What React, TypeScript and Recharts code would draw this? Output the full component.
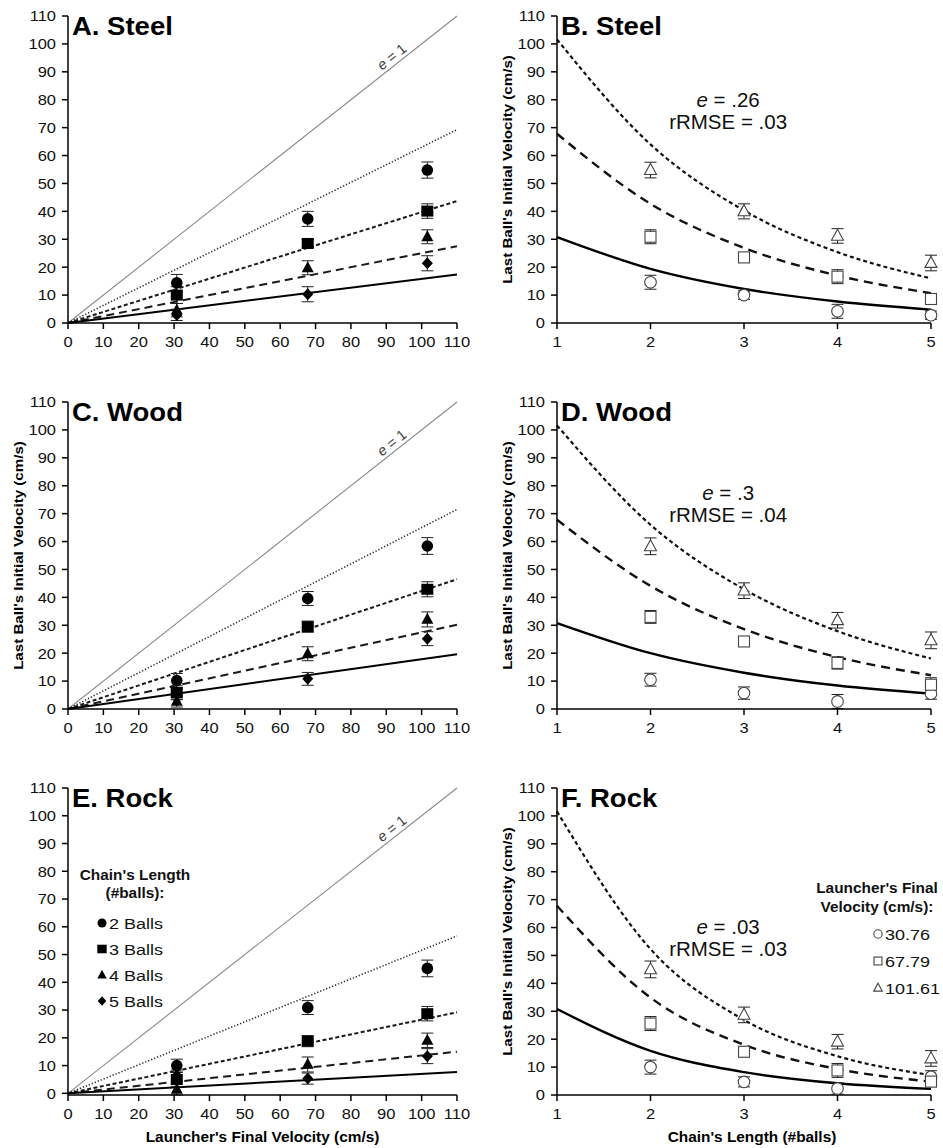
import React from 'react';
import {
  ComposedChart,
  ErrorBar,
  Legend,
  Line,
  ReferenceDot,
  Scatter,
  XAxis,
  YAxis,
} from 'recharts';

const FONT = '"Liberation Sans", Arial, sans-serif';

// shared axes / categories
const launchVelocities = [30.76, 67.79, 101.61];
const chainLengths = [2, 3, 4, 5];
const chainTicks = [1, 2, 3, 4, 5];
const velocityTicks = [0, 10, 20, 30, 40, 50, 60, 70, 80, 90, 100, 110];
const chainLabels = ['2 Balls', '3 Balls', '4 Balls', '5 Balls'];
const launchLabels = ['30.76', '67.79', '101.61'];
const identityLine = [110, 110];

// A. Steel — rows: chain length 2..5, cols: launcher velocity
const steelByChain = [
  [14.4, 37.3, 54.8],
  [10.0, 28.5, 40.1],
  [4.6, 19.8, 30.9],
  [2.9, 10.3, 21.4],
];
const steelByChainErr = [
  [3.0, 2.7, 2.9],
  [3.0, 1.5, 2.6],
  [2.4, 2.5, 2.5],
  [2.0, 2.7, 2.7],
];
const steelLineEnds = [69.3, 43.7, 27.5, 17.4];

// B. Steel — rows: launcher velocity, cols: chain length 2..5
const steelByLaunch = [
  [14.6, 10.0, 4.2, 2.8],
  [30.9, 23.5, 16.6, 8.6],
  [54.8, 40.0, 31.2, 21.5],
];
const steelByLaunchErr = [
  [2.5, 1.5, 2.5, 1.5],
  [2.5, 1.5, 2.5, 1.5],
  [2.8, 2.7, 2.6, 2.8],
];
const steelCurves = [
  [30.8, 19.4, 12.2, 7.7, 4.8],
  [67.8, 42.7, 26.9, 17.0, 10.7],
  [101.6, 64.0, 40.3, 25.4, 16.0],
];

// C. Wood
const woodByChain = [
  [10.2, 39.6, 58.4],
  [5.8, 29.5, 42.9],
  [2.7, 19.8, 32.1],
  [5.5, 10.8, 25.2],
];
const woodByChainErr = [
  [2.5, 2.5, 3.0],
  [2.5, 2.0, 2.7],
  [2.0, 2.5, 2.7],
  [2.0, 2.3, 2.5],
];
const woodLineEnds = [71.5, 46.5, 30.2, 19.6];

// D. Wood
const woodByLaunch = [
  [10.5, 5.7, 2.7, 5.5],
  [33.0, 24.2, 16.5, 8.7],
  [58.3, 42.4, 31.8, 24.6],
];
const woodByLaunchErr = [
  [2.3, 2.2, 2.5, 2.0],
  [2.3, 1.5, 2.2, 2.5],
  [3.0, 2.8, 2.8, 3.0],
];
const woodCurves = [
  [30.8, 20.0, 13.0, 8.4, 5.5],
  [67.8, 44.1, 28.6, 18.6, 12.1],
  [101.6, 66.0, 42.9, 27.9, 18.1],
];

// E. Rock
const rockByChain = [
  [10.0, 30.9, 45.0],
  [5.0, 18.8, 28.7],
  [1.4, 10.4, 19.1],
  [6.4, 5.3, 13.4],
];
const rockByChainErr = [
  [2.3, 2.5, 3.0],
  [2.5, 2.0, 2.6],
  [2.0, 2.7, 2.6],
  [2.0, 2.0, 2.7],
];
const rockLineEnds = [56.7, 29.2, 15.0, 7.7];

// F. Rock
const rockByLaunch = [
  [10.0, 4.7, 2.3, 6.5],
  [25.6, 15.5, 8.8, 4.8],
  [45.0, 28.7, 19.1, 13.1],
];
const rockByLaunchErr = [
  [2.5, 1.8, 2.0, 2.2],
  [2.5, 1.8, 2.5, 1.8],
  [3.0, 2.8, 2.6, 2.8],
];
const rockCurves = [
  [30.8, 15.8, 8.2, 4.2, 2.2],
  [67.8, 34.9, 18.0, 9.3, 4.8],
  [101.6, 52.3, 26.9, 13.9, 7.1],
];

type Kind = 'circle' | 'square' | 'triangle' | 'diamond';
const chainMarks: Kind[] = ['circle', 'square', 'triangle', 'diamond'];
const launchMarks: Kind[] = ['circle', 'square', 'triangle'];

const chainLineStyles = [
  { stroke: '#333', width: 1.6, dash: '1.3 1.9' },
  { stroke: '#1a1a1a', width: 2, dash: '4 2.5' },
  { stroke: '#1a1a1a', width: 2, dash: '8 5' },
  { stroke: '#000', width: 2, dash: undefined },
];
const launchCurveStyles = [
  { stroke: '#000', width: 2.4, dash: undefined },
  { stroke: '#111', width: 2.4, dash: '9 6' },
  { stroke: '#111', width: 2.2, dash: '4 3' },
];

const axisStyle = { stroke: '#000', strokeWidth: 1.5 };

function SText({
  x,
  y,
  size,
  sx = 1,
  weight = 'normal',
  anchor = 'start',
  fill = '#111',
  rotate = 0,
  children,
}: any) {
  const t = `translate(${x} ${y}) rotate(${rotate}) scale(${sx} 1)`;
  return (
    <text
      transform={t}
      textAnchor={anchor}
      fontSize={size}
      fontWeight={weight}
      fontFamily={FONT}
      fill={fill}
    >
      {children}
    </text>
  );
}

function Mark({ kind, cx, cy, open, scale = 1 }: any) {
  const fill = open ? '#fff' : '#000';
  const stroke = open ? '#444' : '#000';
  const sw = open ? 1.1 : 0;
  if (kind === 'circle') {
    return <circle cx={cx} cy={cy} r={5.8 * scale} fill={fill} stroke={stroke} strokeWidth={sw} />;
  }
  if (kind === 'square') {
    const w = (open ? 11 : 12) * scale;
    const h = 11 * scale;
    return <rect x={cx - w / 2} y={cy - h / 2} width={w} height={h} fill={fill} stroke={stroke} strokeWidth={sw} />;
  }
  if (kind === 'triangle') {
    const w = 12 * scale;
    const h = 11 * scale;
    const pts = `${cx},${cy - h * 0.6} ${cx + w / 2},${cy + h * 0.4} ${cx - w / 2},${cy + h * 0.4}`;
    return <polygon points={pts} fill={fill} stroke={stroke} strokeWidth={sw} />;
  }
  const d = 5.5 * scale;
  const pts = `${cx},${cy - d - 0.5} ${cx + d},${cy} ${cx},${cy + d + 0.5} ${cx - d},${cy}`;
  return <polygon points={pts} fill={fill} stroke={stroke} strokeWidth={sw} />;
}

function XTick({ x, y, payload }: any) {
  return (
    <SText x={x} y={y + 15} size={15} sx={1.1} anchor="middle">
      {payload.value}
    </SText>
  );
}

function YTick({ x, y, payload }: any) {
  return (
    <SText x={x} y={y + 5.4} size={15} sx={1.1} anchor="end">
      {payload.value}
    </SText>
  );
}

function yAxisLabel(offset: number) {
  return {
    content: (props: any) => {
      const vb = props.viewBox || { x: 0, y: 0, width: 0, height: 0 };
      const cx = vb.x + offset;
      const cy = vb.y + vb.height / 2;
      return (
        <SText x={cx} y={cy} size={13.5} sx={1.12} weight="bold" anchor="middle" rotate={-90} fill="#000">
          <tspan dy={4.5}>Last Ball's Initial Velocity (cm/s)</tspan>
        </SText>
      );
    },
  };
}

function xAxisLabel(text: string, dx: number) {
  return {
    content: (props: any) => {
      const vb = props.viewBox || { x: 0, y: 0, width: 0, height: 0 };
      return (
        <SText x={vb.x + vb.width / 2 + dx} y={vb.y + 47} size={14} sx={1.1} weight="bold" anchor="middle" fill="#000">
          {text}
        </SText>
      );
    },
  };
}

function ChainLegend() {
  return (
    <svg width={150} height={150} style={{ overflow: 'visible' }}>
      <SText x={75} y={18} size={14} sx={1.1} weight="bold" anchor="middle">
        Chain's Length
      </SText>
      <SText x={75} y={36} size={14} sx={1.1} weight="bold" anchor="middle">
        (#balls):
      </SText>
      {chainLabels.map((label, i) => (
        <g key={label}>
          <Mark kind={chainMarks[i]} cx={42} cy={61 + 26 * i} scale={0.78} />
          <SText x={49} y={66.5 + 26 * i} size={15} sx={1.2}>
            {label}
          </SText>
        </g>
      ))}
    </svg>
  );
}

function LaunchLegend() {
  return (
    <svg width={150} height={130} style={{ overflow: 'visible' }}>
      <SText x={77} y={16} size={14} sx={1.1} weight="bold" anchor="middle">
        Launcher's Final
      </SText>
      <SText x={77} y={35} size={14} sx={1.1} weight="bold" anchor="middle">
        Velocity (cm/s):
      </SText>
      {launchLabels.map((label, i) => (
        <g key={label}>
          <Mark kind={launchMarks[i]} cx={78} cy={57 + 27 * i} open scale={0.72} />
          <SText x={85} y={62.5 + 27 * i} size={15} sx={1.2}>
            {label}
          </SText>
        </g>
      ))}
    </svg>
  );
}

function Title({ text }: { text: string }) {
  return (props: any) => (
    <SText x={props.cx + 4} y={props.cy + 19} size={25} sx={1.1} weight="bold" fill="#000">
      {text}
    </SText>
  );
}

// error bars go in one hidden scatter layer, markers on top in a second
function errorLayer(key: string, rows: number[][], errs: number[][], xs: number[]) {
  return rows.map((row, i) => (
    <Scatter
      key={`${key}-err-${i}`}
      data={row.map((y, j) => ({ x: xs[j], y, err: errs[i][j] }))}
      dataKey="y"
      legendType="none"
      isAnimationActive={false}
      shape={() => <g />}
    >
      <ErrorBar dataKey="err" direction="y" width={6} stroke="#222" strokeWidth={1} zIndex={450} />
    </Scatter>
  ));
}

function markerLayer(key: string, rows: number[][], xs: number[], kinds: Kind[], open: boolean) {
  return rows.map((row, i) => (
    <Scatter
      key={`${key}-pts-${i}`}
      data={row.map((y, j) => ({ x: xs[j], y }))}
      dataKey="y"
      legendType="none"
      isAnimationActive={false}
      zIndex={1500}
      shape={(p: any) => <Mark kind={kinds[i]} cx={p.cx} cy={p.cy} open={open} />}
    />
  ));
}

function VelocityPanel({ title, byChain, errs, lineEnds, top, showYLabel, showXLabel, legend }: any) {
  return (
    <div style={{ position: 'absolute', left: 0, top, width: 470, height: 380 }}>
      <ComposedChart width={470} height={380} margin={{ top: 16, right: 13, bottom: 27, left: 0 }}>
        <XAxis
          type="number"
          dataKey="x"
          domain={[0, 110]}
          ticks={velocityTicks}
          interval={0}
          height={30}
          tickSize={6}
          tickMargin={3}
          axisLine={axisStyle}
          tickLine={axisStyle}
          tick={<XTick />}
          label={showXLabel ? xAxisLabel("Launcher's Final Velocity (cm/s)", 0) : undefined}
        />
        <YAxis
          type="number"
          dataKey="y"
          domain={[0, 110]}
          ticks={velocityTicks}
          interval={0}
          width={68}
          tickSize={6}
          tickMargin={6}
          axisLine={axisStyle}
          tickLine={axisStyle}
          tick={<YTick />}
          label={showYLabel ? yAxisLabel(18) : undefined}
        />
        <Line
          data={[{ x: 0, y: 0 }, { x: identityLine[0], y: identityLine[1] }]}
          dataKey="y"
          type="linear"
          stroke="#8a8a8a"
          strokeWidth={1.1}
          dot={false}
          activeDot={false}
          legendType="none"
          isAnimationActive={false}
        />
        {lineEnds.map((v: number, i: number) => (
          <Line
            key={`fit-${i}`}
            data={[{ x: 0, y: 0 }, { x: 110, y: v }]}
            dataKey="y"
            type="linear"
            stroke={chainLineStyles[i].stroke}
            strokeWidth={chainLineStyles[i].width}
            strokeDasharray={chainLineStyles[i].dash}
            dot={false}
            activeDot={false}
            legendType="none"
            isAnimationActive={false}
          />
        ))}
        {errorLayer('v', byChain, errs, launchVelocities)}
        {markerLayer('v', byChain, launchVelocities, chainMarks, false)}
        <ReferenceDot
          x={93}
          y={93}
          r={0}
          shape={(p: any) => (
            <SText x={p.cx} y={p.cy} size={14.5} anchor="middle" fill="#444" rotate={-38.3}>
              <tspan dy={-3.5} fontStyle="italic">e</tspan>
              <tspan> = 1</tspan>
            </SText>
          )}
        />
        <ReferenceDot x={0} y={110} r={0} shape={Title({ text: title })} />
        {legend ? (
          <Legend
            layout="vertical"
            align="center"
            verticalAlign="middle"
            wrapperStyle={{ left: 60, top: 90, width: 150, height: 150 }}
            content={() => <ChainLegend />}
          />
        ) : null}
      </ComposedChart>
    </div>
  );
}

function ChainPanel({ title, byLaunch, errs, curves, top, fitE, rmse, noteY, showXLabel, legend }: any) {
  return (
    <div style={{ position: 'absolute', left: 470, top, width: 473, height: 380 }}>
      <ComposedChart width={473} height={380} margin={{ top: 16, right: 12, bottom: 27, left: 0 }}>
        <XAxis
          type="number"
          dataKey="x"
          domain={[1, 5]}
          ticks={chainTicks}
          interval={0}
          height={30}
          tickSize={6}
          tickMargin={3}
          axisLine={axisStyle}
          tickLine={axisStyle}
          tick={<XTick />}
          label={showXLabel ? xAxisLabel("Chain's Length (#balls)", 8) : undefined}
        />
        <YAxis
          type="number"
          dataKey="y"
          domain={[0, 110]}
          ticks={velocityTicks}
          interval={0}
          width={87}
          tickSize={6}
          tickMargin={6}
          axisLine={axisStyle}
          tickLine={axisStyle}
          tick={<YTick />}
          label={yAxisLabel(37)}
        />
        {curves.map((row: number[], i: number) => (
          <Line
            key={`curve-${i}`}
            data={row.map((y, j) => ({ x: chainTicks[j], y }))}
            dataKey="y"
            type="monotone"
            stroke={launchCurveStyles[i].stroke}
            strokeWidth={launchCurveStyles[i].width}
            strokeDasharray={launchCurveStyles[i].dash}
            dot={false}
            activeDot={false}
            legendType="none"
            isAnimationActive={false}
          />
        ))}
        {errorLayer('c', byLaunch, errs, chainLengths)}
        {markerLayer('c', byLaunch, chainLengths, launchMarks, true)}
        <ReferenceDot
          x={2.83}
          y={noteY}
          r={0}
          shape={(p: any) => (
            <g>
              <SText x={p.cx} y={p.cy + 7} size={20.5} anchor="middle">
                <tspan fontStyle="italic">e</tspan>
                <tspan>{` = ${fitE}`}</tspan>
              </SText>
              <SText x={p.cx} y={p.cy + 29} size={20.5} anchor="middle">
                {`rRMSE = ${rmse}`}
              </SText>
            </g>
          )}
        />
        <ReferenceDot x={1} y={110} r={0} shape={Title({ text: title })} />
        {legend ? (
          <Legend
            layout="vertical"
            align="center"
            verticalAlign="middle"
            wrapperStyle={{ left: 330, top: 105, width: 150, height: 130 }}
            content={() => <LaunchLegend />}
          />
        ) : null}
      </ComposedChart>
    </div>
  );
}

export default function App() {
  return (
    <div
      style={{
        position: 'absolute',
        left: 0,
        top: 0,
        width: 943,
        height: 1148,
        background: '#fff',
        fontFamily: FONT,
        overflow: 'hidden',
      }}
    >
      <VelocityPanel title="A. Steel" byChain={steelByChain} errs={steelByChainErr} lineEnds={steelLineEnds} top={0} />
      <ChainPanel
        title="B. Steel"
        byLaunch={steelByLaunch}
        errs={steelByLaunchErr}
        curves={steelCurves}
        top={0}
        fitE=".26"
        rmse=".03"
        noteY={80}
      />
      <VelocityPanel
        title="C. Wood"
        byChain={woodByChain}
        errs={woodByChainErr}
        lineEnds={woodLineEnds}
        top={386}
        showYLabel
      />
      <ChainPanel
        title="D. Wood"
        byLaunch={woodByLaunch}
        errs={woodByLaunchErr}
        curves={woodCurves}
        top={386}
        fitE=".3"
        rmse=".04"
        noteY={77.4}
      />
      <VelocityPanel
        title="E. Rock"
        byChain={rockByChain}
        errs={rockByChainErr}
        lineEnds={rockLineEnds}
        top={772}
        showXLabel
        legend
      />
      <ChainPanel
        title="F. Rock"
        byLaunch={rockByLaunch}
        errs={rockByLaunchErr}
        curves={rockCurves}
        top={772}
        fitE=".03"
        rmse=".03"
        noteY={60.2}
        showXLabel
        legend
      />
    </div>
  );
}
